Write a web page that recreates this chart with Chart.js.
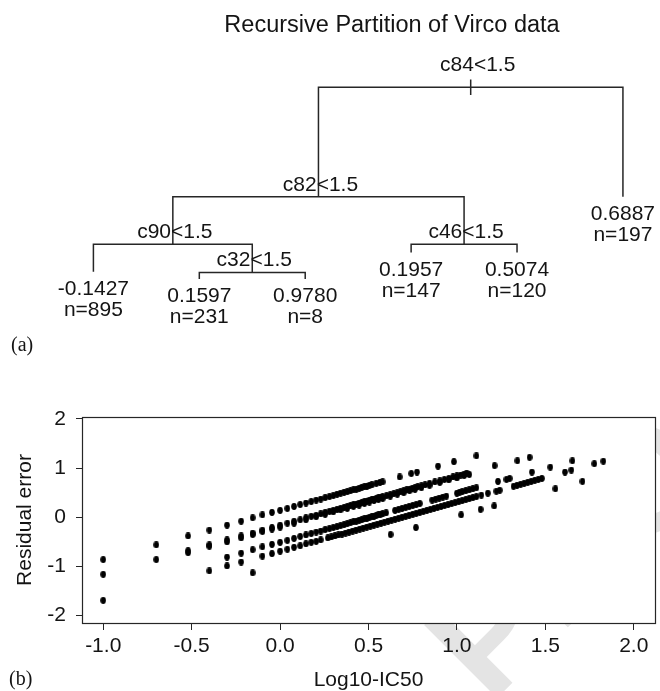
<!DOCTYPE html>
<html>
<head>
<meta charset="utf-8">
<script src="https://cdn.jsdelivr.net/npm/chart.js@4.4.1/dist/chart.umd.min.js"></script>
<style>
  html, body { margin: 0; padding: 0; background: #fff; }
  #wrap { position: relative; width: 660px; height: 691px; overflow: hidden; }
  #treeChart { position: absolute; left: 0; top: 0; }
  #residChart { position: absolute; left: 0; top: 350px; }
</style>
</head>
<body>
<div id="wrap">
  <canvas id="residChart" width="660" height="341"></canvas>
  <canvas id="treeChart" width="660" height="365"></canvas>
</div>
<script>
// ---- (a) recursive partition tree ----
const treeTitle = "Recursive Partition of Virco data";
const splitLabels = ["c84<1.5", "c82<1.5", "c90<1.5", "c32<1.5", "c46<1.5"];
const splitHeights = [1.0, 0.602, 0.429, 0.327, 0.429];   // relative deviance
const splitChildren = [["s1", "l5"], ["s2", "s4"], ["l0", "s3"], ["l1", "l2"], ["l3", "l4"]];
const leafMeans = ["-0.1427", "0.1597", "0.9780", "0.1957", "0.5074", "0.6887"];
const leafCounts = [895, 231, 8, 147, 120, 197];
const leafHeights = [0.329, 0.303, 0.303, 0.399, 0.399, 0.602];

// ---- (b) residuals vs Log10-IC50, grouped by terminal node ----
const leafA = [[-1.00,-0.86],[-0.70,-0.56],[-0.52,-0.38],[-0.40,-0.26],[-0.30,-0.16],[-0.22,-0.08],[-0.155,-0.01],[-0.10,0.05],[-0.046,0.10],[0.00,0.14],[0.041,0.18],[0.079,0.22],[0.114,0.26],[0.146,0.29],[0.176,0.32],[0.204,0.35],[0.23,0.37],[0.255,0.40],[0.279,0.42],[0.301,0.44],[0.322,0.47],[0.342,0.49],[0.362,0.51],[0.38,0.52],[0.398,0.54],[0.415,0.56],[0.431,0.57],[0.447,0.59],[0.462,0.61],[0.477,0.62],[0.491,0.63],[0.505,0.65],[0.519,0.66],[0.544,0.69],[0.565,0.71],[0.58,0.72],[0.676,0.82],[0.742,0.89],[0.774,0.92],[0.893,1.04],[0.983,1.13],[1.11,1.25]];
const leafB1 = [[-1.00,-1.16],[-0.70,-0.86],[-0.52,-0.68],[-0.40,-0.56],[-0.30,-0.46],[-0.22,-0.38],[-0.155,-0.32],[-0.10,-0.26],[-0.046,-0.21],[0.00,-0.16],[0.041,-0.12],[0.079,-0.08],[0.114,-0.05],[0.146,-0.01],[0.176,0.02],[0.204,0.04],[0.23,0.07],[0.255,0.10],[0.279,0.12],[0.301,0.14],[0.322,0.16],[0.342,0.18],[0.362,0.20],[0.38,0.22],[0.398,0.24],[0.415,0.26],[0.431,0.27],[0.447,0.29],[0.462,0.30],[0.477,0.32],[0.491,0.33],[0.505,0.35],[0.519,0.36],[0.531,0.37],[0.544,0.38],[0.556,0.40],[0.568,0.41],[0.58,0.42],[0.602,0.44],[0.623,0.46],[0.643,0.48],[0.663,0.50],[0.681,0.52],[0.699,0.54],[0.716,0.56],[0.732,0.57],[0.748,0.59],[0.763,0.60],[0.778,0.62],[0.799,0.64],[0.82,0.66],[0.845,0.69],[0.875,0.72],[0.903,0.74],[0.929,0.77],[0.954,0.79],[0.978,0.82],[1.00,0.84],[1.021,0.86],[1.041,0.88],[1.055,0.90],[1.213,1.05]];
const leafB2 = [[-0.52,-0.72],[-0.40,-0.59],[-0.30,-0.50],[-0.22,-0.42],[-0.155,-0.35],[-0.10,-0.29],[-0.046,-0.24],[0.00,-0.20],[0.079,-0.12],[0.146,-0.05],[0.204,0.01],[0.255,0.06],[0.301,0.11],[0.342,0.15],[0.38,0.18],[0.415,0.22],[0.447,0.25],[0.477,0.28],[0.505,0.31],[0.531,0.34],[0.556,0.36],[0.58,0.38],[0.623,0.43],[0.663,0.47],[0.699,0.50],[0.732,0.54],[0.763,0.57],[0.799,0.60],[0.845,0.65],[0.903,0.71],[0.954,0.76],[1.00,0.80],[1.041,0.85],[1.07,0.87],[1.342,1.15],[1.411,1.22]];
const leafC = [[-0.30,-0.81],[-0.22,-0.73],[-0.155,-0.66],[-0.10,-0.60],[-0.046,-0.55],[0.00,-0.51],[0.041,-0.47],[0.079,-0.43],[0.114,-0.39],[0.146,-0.36],[0.176,-0.33],[0.204,-0.30],[0.23,-0.28],[0.255,-0.25],[0.279,-0.23],[0.301,-0.21],[0.322,-0.19],[0.342,-0.17],[0.362,-0.15],[0.38,-0.13],[0.398,-0.11],[0.415,-0.09],[0.431,-0.08],[0.447,-0.06],[0.462,-0.05],[0.477,-0.03],[0.491,-0.02],[0.505,0.00],[0.519,0.01],[0.531,0.02],[0.544,0.04],[0.556,0.05],[0.568,0.06],[0.58,0.07],[0.60,0.09],[0.65,0.14],[0.67,0.16],[0.69,0.18],[0.71,0.20],[0.73,0.22],[0.75,0.24],[0.77,0.26],[0.79,0.28],[0.86,0.35],[0.88,0.37],[0.90,0.39],[0.92,0.41],[0.94,0.43],[1.00,0.49],[1.015,0.51],[1.03,0.52],[1.05,0.54],[1.07,0.56],[1.09,0.58],[1.11,0.60],[1.232,0.73],[1.28,0.77],[1.298,0.79],[1.424,0.92],[1.528,1.02],[1.653,1.15]];
const leafD = [[-1.00,-1.69],[-0.40,-1.09],[-0.30,-0.99],[-0.22,-0.91],[-0.10,-0.79],[-0.046,-0.74],[0.00,-0.69],[0.041,-0.65],[0.079,-0.61],[0.114,-0.58],[0.146,-0.54],[0.176,-0.51],[0.204,-0.49],[0.23,-0.46],[0.27,-0.42],[0.29,-0.40],[0.31,-0.38],[0.33,-0.36],[0.35,-0.34],[0.37,-0.32],[0.39,-0.30],[0.41,-0.28],[0.43,-0.26],[0.45,-0.24],[0.47,-0.22],[0.49,-0.20],[0.51,-0.18],[0.53,-0.16],[0.55,-0.14],[0.57,-0.12],[0.59,-0.10],[0.61,-0.08],[0.63,-0.06],[0.65,-0.04],[0.67,-0.02],[0.69,0.00],[0.71,0.02],[0.73,0.04],[0.75,0.06],[0.77,0.08],[0.79,0.10],[0.81,0.12],[0.83,0.14],[0.85,0.16],[0.87,0.18],[0.89,0.20],[0.91,0.22],[0.93,0.24],[0.95,0.26],[0.97,0.28],[0.99,0.30],[1.01,0.32],[1.03,0.34],[1.05,0.36],[1.07,0.38],[1.09,0.40],[1.11,0.42],[1.138,0.45],[1.175,0.49],[1.223,0.53],[1.242,0.55],[1.32,0.63],[1.34,0.65],[1.36,0.67],[1.38,0.69],[1.40,0.71],[1.42,0.73],[1.44,0.75],[1.46,0.77],[1.48,0.79],[1.611,0.92],[1.647,0.96],[1.777,1.09],[1.828,1.14]];
const leafE = [[-0.155,-1.13],[0.625,-0.35],[0.768,-0.21],[1.024,0.05],[1.134,0.16],[1.211,0.23],[1.557,0.58],[1.71,0.73]];

const xTicks = [-1, -0.5, 0, 0.5, 1, 1.5, 2];
const yTicks = [-2, -1, 0, 1, 2];

const SANS = "'Liberation Sans', Arial, sans-serif";
const SERIF = "'Liberation Serif', 'Times New Roman', serif";
const INK = "#141414";

// tree layout: leaves at 1..n, splits centred over their children
function nodeX(id) {
  if (id[0] === "l") return Number(id.slice(1)) + 1;
  const [a, b] = splitChildren[Number(id.slice(1))];
  return (nodeX(a) + nodeX(b)) / 2;
}
function nodeH(id) {
  const i = Number(id.slice(1));
  return id[0] === "l" ? leafHeights[i] : splitHeights[i];
}

const branchSets = splitChildren.map((kids, i) => {
  const [a, b] = kids;
  return {
    data: [
      { x: nodeX(a), y: nodeH(a) },
      { x: nodeX(a), y: splitHeights[i] },
      { x: nodeX(b), y: splitHeights[i] },
      { x: nodeX(b), y: nodeH(b) }
    ],
    showLine: true, pointRadius: 0, borderColor: "#262626", borderWidth: 1.5, fill: false
  };
});
const rootX = nodeX("s0");
branchSets.push({
  data: [{ x: rootX, y: splitHeights[0] + 0.028 }, { x: rootX, y: splitHeights[0] - 0.028 }],
  showLine: true, pointRadius: 0, borderColor: "#262626", borderWidth: 1.5, fill: false
});

const treeText = {
  id: "treeText",
  afterDatasetsDraw(chart) {
    const { ctx, scales: { x, y } } = chart;
    ctx.save();
    ctx.fillStyle = INK;
    ctx.textAlign = "center";
    ctx.textBaseline = "alphabetic";
    ctx.font = "23.5px " + SANS;
    ctx.fillText(treeTitle, 392, 32);
    ctx.font = "21px " + SANS;
    splitLabels.forEach((lab, i) => {
      const px = x.getPixelForValue(nodeX("s" + i));
      const py = y.getPixelForValue(splitHeights[i]);
      ctx.fillText(lab, px + (i === 0 ? 7 : 2), py - (i === 0 ? 16 : 6));
    });
    leafMeans.forEach((m, i) => {
      const px = x.getPixelForValue(i + 1);
      const py = y.getPixelForValue(leafHeights[i]);
      ctx.fillText(m, px, py + 23);
      ctx.fillText("n=" + leafCounts[i], px, py + 44);
    });
    ctx.textAlign = "left";
    ctx.textBaseline = "middle";
    ctx.font = "20px " + SERIF;
    ctx.fillText("(a)", 11, 346);
    ctx.restore();
  }
};

new Chart(document.getElementById("treeChart"), {
  type: "scatter",
  data: { datasets: branchSets },
  options: {
    responsive: false,
    animation: false,
    layout: { padding: 0 },
    plugins: { legend: { display: false }, tooltip: { enabled: false } },
    scales: {
      x: { type: "linear", display: false, min: 0.118, max: 6.35 },
      y: { type: "linear", display: false, min: -0.0098, max: 1.3175 }
    }
  },
  plugins: [treeText]
});

// elliptical dot, like the scanned plotting symbol
const dot = document.createElement("canvas");
dot.width = 6; dot.height = 7;
(function () {
  const g = dot.getContext("2d");
  g.fillStyle = "#000";
  g.beginPath();
  g.ellipse(3, 3.5, 2.8, 3.4, 0, 0, Math.PI * 2);
  g.fill();
})();

const toPts = arr => arr.map(([x, y]) => ({ x, y }));
const groups = [leafA, leafB1, leafB2, leafC, leafD, leafE];

// faint publisher watermark behind the figure, hidden by the white plot panel
const frame = {
  id: "frame",
  beforeDraw(chart) {
    const { ctx, chartArea: a } = chart;
    ctx.save();
    ctx.translate(490, 355);
    ctx.rotate(-Math.PI / 4);
    ctx.fillStyle = "#e4e4e4";
    ctx.font = "bold 150px " + SANS;
    ctx.textBaseline = "alphabetic";
    ctx.fillText("PROOF", 0, 0);
    ctx.restore();
    ctx.save();
    ctx.fillStyle = "#fff";
    ctx.fillRect(a.left, a.top, a.right - a.left, a.bottom - a.top);
    ctx.restore();
  },
  afterDraw(chart) {
    const { ctx, chartArea: a } = chart;
    ctx.save();
    ctx.strokeStyle = "#262626";
    ctx.lineWidth = 1.2;
    ctx.strokeRect(a.left + 0.5, a.top + 0.5, a.right - a.left, a.bottom - a.top);
    ctx.fillStyle = INK;
    ctx.font = "20px " + SERIF;
    ctx.textAlign = "left";
    ctx.textBaseline = "middle";
    ctx.fillText("(b)", 9, 330);
    ctx.restore();
  }
};

new Chart(document.getElementById("residChart"), {
  type: "scatter",
  data: {
    datasets: groups.map(g => ({
      data: toPts(g),
      pointStyle: dot,
      pointRadius: 3,
      backgroundColor: "#000",
      borderColor: "#000"
    }))
  },
  options: {
    responsive: false,
    animation: false,
    layout: { padding: { left: 0, right: 5, top: 67, bottom: 0 } },
    plugins: { legend: { display: false }, tooltip: { enabled: false } },
    scales: {
      x: {
        type: "linear", min: -1.12, max: 2.12,
        afterBuildTicks: s => { s.ticks = xTicks.map(v => ({ value: v })); },
        afterFit: s => { s.height = 68; },
        grid: { drawOnChartArea: false, tickLength: 7, color: "#262626", lineWidth: 1 },
        border: { display: false },
        ticks: {
          padding: 4, color: INK, maxRotation: 0, autoSkip: false,
          font: { family: SANS, size: 21 },
          callback: v => v.toFixed(1)
        },
        title: {
          display: true, text: "Log10-IC50", color: INK, padding: 0,
          font: { family: SANS, size: 21, lineHeight: 1 }
        }
      },
      y: {
        type: "linear", min: -2.15, max: 2.04,
        afterBuildTicks: s => { s.ticks = yTicks.map(v => ({ value: v })); },
        afterFit: s => { s.width = 82; },
        grid: { drawOnChartArea: false, tickLength: 6, color: "#262626", lineWidth: 1 },
        border: { display: false },
        ticks: {
          padding: 10, color: INK, autoSkip: false,
          font: { family: SANS, size: 21 },
          callback: v => String(v)
        },
        title: {
          display: true, text: "Residual error", color: INK,
          padding: { top: 13, bottom: 0 },
          font: { family: SANS, size: 21 }
        }
      }
    }
  },
  plugins: [frame]
});
</script>
</body>
</html>
